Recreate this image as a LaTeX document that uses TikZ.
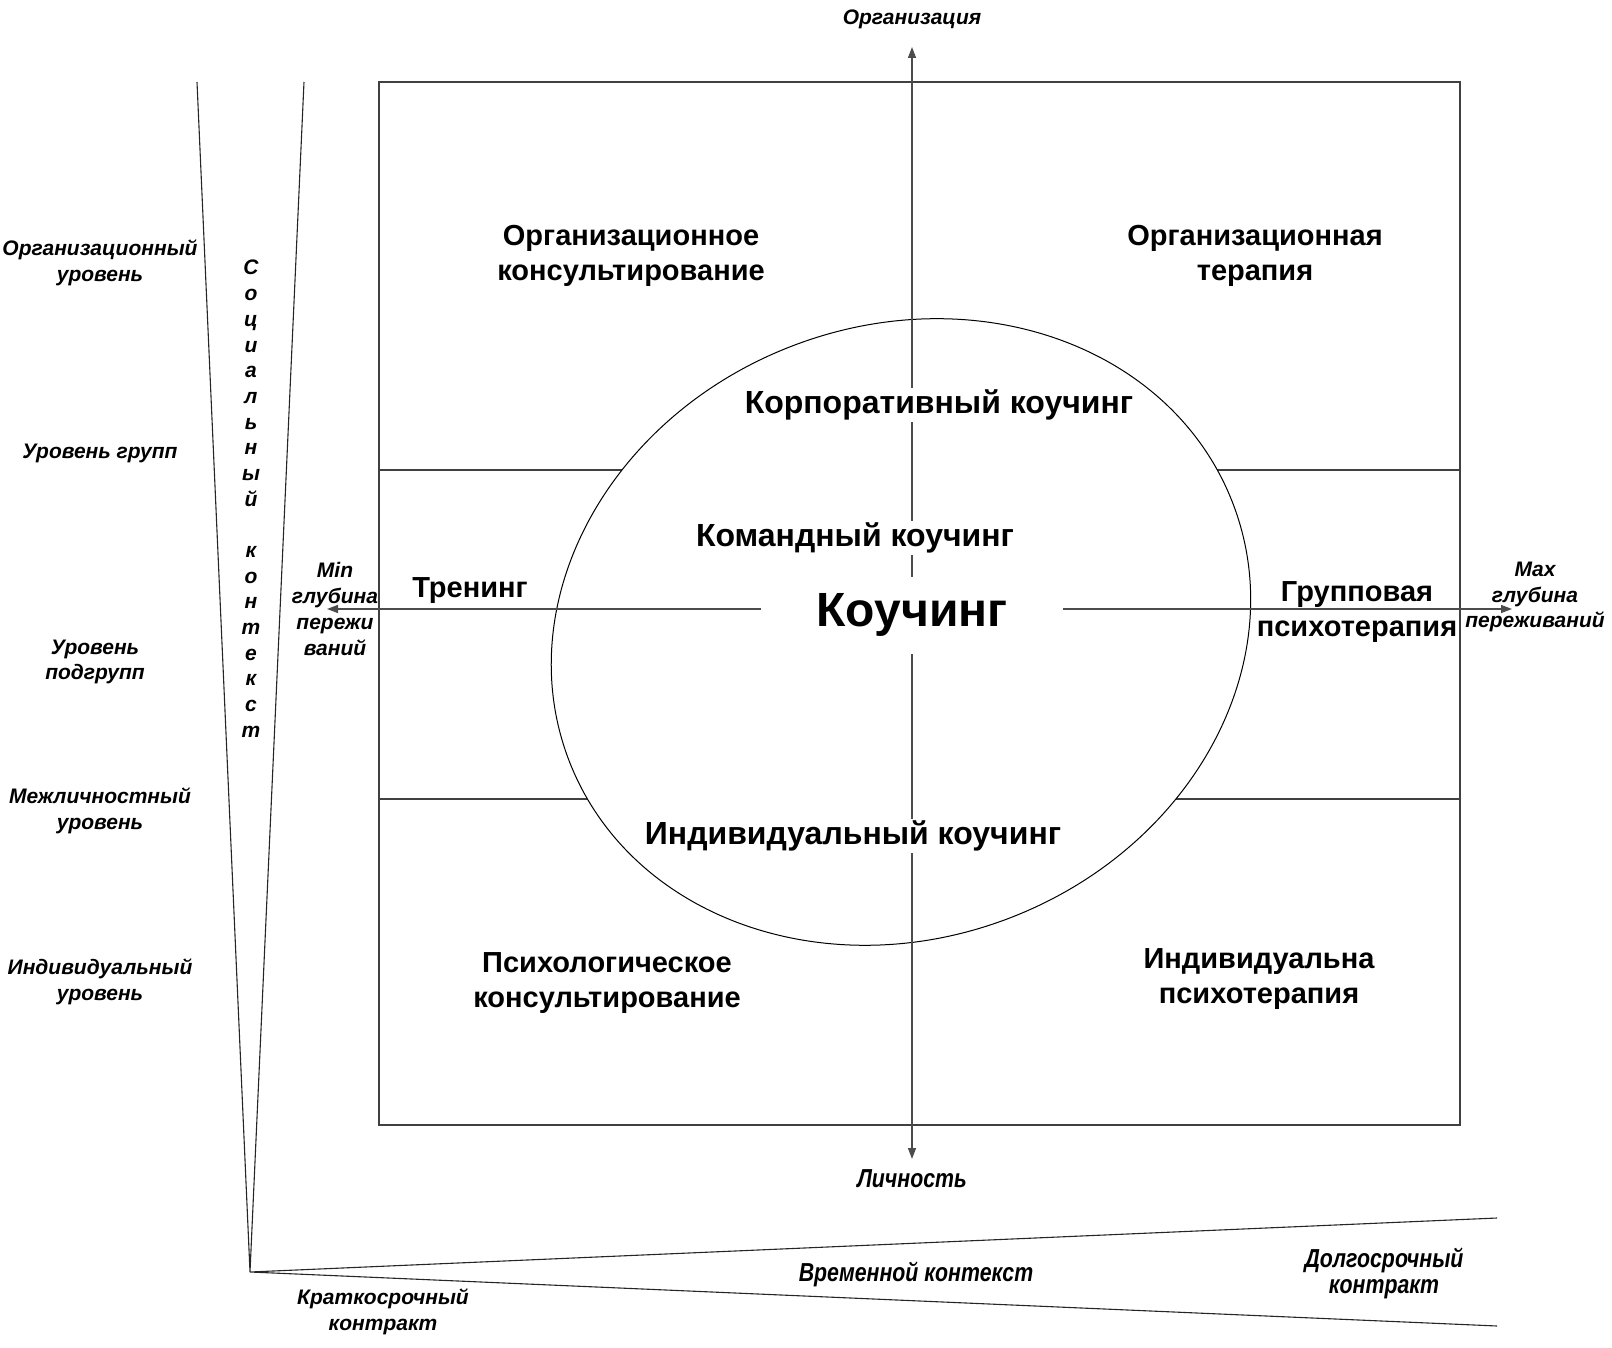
\documentclass[tikz,border=0pt]{standalone}
\usepackage{fontspec}
\setmainfont{Liberation Sans}
\newfontfamily\condfont[FakeStretch=0.82]{Liberation Sans}
\usetikzlibrary{arrows.meta}
\tikzset{
  ln/.style={line width=1.3pt, draw=black!75},
  wedge/.style={line width=1.1pt, draw=black!85},
  axisarr/.style={line width=1.3pt, draw=black!70, -{Triangle[length=11pt,width=8pt]}},
  lbl/.style={font=\fontsize{29}{35}\selectfont\bfseries, align=center, inner sep=2pt},
  wlbl/.style={font=\fontsize{32}{36}\selectfont\bfseries, align=center, inner sep=2pt, fill=white},
  side/.style={font=\fontsize{21}{25.7}\selectfont\bfseries\itshape, align=center, inner sep=0pt},
  cond/.style={font=\condfont\fontsize{26}{26}\selectfont\bfseries\itshape, align=center, inner sep=0pt},
  letter/.style={font=\fontsize{21}{21}\selectfont\bfseries\itshape, inner sep=0pt, text height=15pt, text depth=5pt},
}
\begin{document}
\begin{tikzpicture}[x=1pt,y=-1pt]
\useasboundingbox (0,0) rectangle (1612,1348);
% wedges
\coordinate (V) at (250,1272);
\coordinate (WL) at (197,82);
\coordinate (WR) at (304,82);
\coordinate (TU) at (1497,1218);
\coordinate (TD) at (1497,1326);
\draw[wedge] (WL) -- (V) -- (WR);
\draw[wedge] (TU) -- (V) -- (TD);
% box and dividers
\coordinate (B1) at (379,82);
\coordinate (B2) at (1460,1125);
\coordinate (D1l) at (379,470);
\coordinate (D1r) at (1460,470);
\coordinate (D2l) at (379,799);
\coordinate (D2r) at (1460,799);
\draw[ln] (B1) rectangle (B2);
\draw[ln] (D1l) -- (D1r);
\draw[ln] (D2l) -- (D2r);
% ellipse
\coordinate (E) at (901,632);
\draw[line width=1pt, fill=white, rotate around={21.6:(E)}] (E) ellipse [x radius=356pt, y radius=306pt];
% axes
\coordinate (C) at (912,609);
\coordinate (vtop) at (912,47);
\coordinate (vbot) at (912,1159);
\coordinate (hl) at (327,609);
\coordinate (hr) at (1512,609);
\draw[axisarr] (C) -- (vtop);
\draw[axisarr] (C) -- (vbot);
\draw[axisarr] (C) -- (hl);
\draw[axisarr] (C) -- (hr);
% central labels
\node[fill=white, minimum width=302pt, minimum height=77pt, inner sep=0pt, font=\fontsize{48}{50}\selectfont\bfseries] (kouch) at (912,615) {Коучинг};
\node[wlbl] (corp) at (939,405) {Корпоративный коучинг};
\node[wlbl] (team) at (855,538) {Командный коучинг};
\node[wlbl] (indk) at (853,836) {Индивидуальный коучинг};
\node[lbl] (orgc) at (631,256) {Организационное\\консультирование};
\node[lbl] (orgt) at (1255,256) {Организационная\\терапия};
\node[lbl] (tren) at (470,591) {Тренинг};
\node[lbl] (grp) at (1357,612) {Групповая\\психотерапия};
\node[lbl] (psyc) at (607,983) {Психологическое\\консультирование};
\node[lbl] (indp) at (1259,979) {Индивидуальна\\психотерапия};
% side labels
\node[side] (org) at (912,19) {Организация};
\node[cond] (lich) at (912,1179) {Личность};
\node[side] (minl) at (335,609) {Min\\глубина\\пережи\\ваний};
\node[side] (maxl) at (1535,597) {Max\\глубина\\переживаний};
\node[side] (lv1) at (100,263) {Организационный\\уровень};
\node[side] (lv2) at (100,453) {Уровень групп};
\node[side] (lv3) at (95,662) {Уровень\\подгрупп};
\node[side] (lv4) at (100,811) {Межличностный\\уровень};
\node[side] (lv5) at (100,982) {Индивидуальный\\уровень};
\node[side] (kr) at (383,1312) {Краткосрочный\\контракт};
\node[cond] (vr) at (916,1274) {Временной контекст};
\node[cond] (dl) at (1384,1273) {Долгосрочный\\контракт};
% vertical letters
\foreach \ch [count=\i from 0] in {С,о,ц,и,а,л,ь,н,ы,й,{},к,о,н,т,е,к,с,т}
  \node[letter] (s\i) at (251,{270+\i*25.67}) {\ch};
\end{tikzpicture}
\end{document}
